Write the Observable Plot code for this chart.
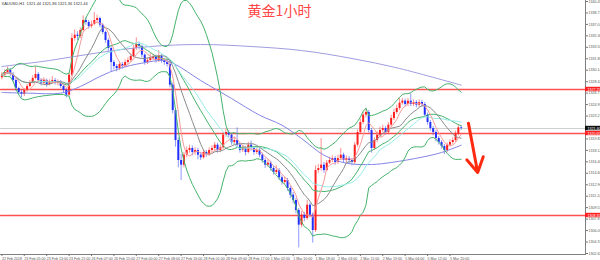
<!DOCTYPE html>
<html><head><meta charset="utf-8">
<script src="https://cdn.jsdelivr.net/npm/d3@7"></script>
<script src="https://cdn.jsdelivr.net/npm/@observablehq/plot@0.6"></script>
<style>html,body{margin:0;padding:0;background:#fff;}svg{display:block;}</style>
</head><body><div id="chart"></div>
<script>
// ---- data (XAUUSD H1) ----
const title = "黄金1小时";
const header = "XAUUSD,H1  1321.44 1321.86 1321.36 1321.44";
const firstOpen = 1329.0;
const closes = [
1329.4,1329.8,1330.1,1329.5,1328.6,1327.4,1326.8,1326.5,1327.1,1327.7,
1328.3,1328.9,1329.5,1328.6,1328.2,1328.6,1328.0,1328.3,1328.6,1328.2,
1328.3,1327.7,1327.1,1326.4,1329.4,1334.9,1335.4,1335.2,1336.1,1337.6,
1337.3,1336.7,1337.0,1337.6,1337.9,1336.9,1335.8,1334.6,1333.4,1331.3,
1330.7,1330.4,1331.0,1330.7,1331.3,1331.6,1332.2,1333.4,1334.0,1333.7,
1332.4,1331.3,1331.6,1331.9,1332.1,1331.6,1332.2,1331.6,1331.3,1331.0,
1327.9,1324.1,1319.6,1316.6,1315.9,1317.4,1318.1,1318.4,1317.8,1318.1,
1317.4,1317.0,1317.8,1317.5,1318.1,1318.4,1318.9,1318.1,1318.5,1320.4,
1320.8,1320.4,1319.3,1319.6,1318.9,1318.1,1318.4,1317.8,1318.9,1318.4,
1317.8,1318.1,1317.4,1316.6,1315.9,1316.2,1315.4,1314.8,1315.1,1314.0,
1313.3,1313.6,1312.4,1311.4,1310.6,1309.1,1306.9,1308.4,1307.9,1309.9,
1308.4,1306.1,1315.1,1315.4,1315.9,1315.1,1316.2,1316.6,1316.9,1316.3,
1316.9,1317.4,1316.6,1316.9,1316.6,1316.3,1318.9,1320.8,1322.3,1323.4,
1323.8,1321.1,1318.4,1319.6,1320.4,1321.1,1321.4,1320.8,1321.9,1322.9,
1323.8,1324.4,1325.2,1325.5,1325.0,1325.5,1325.0,1325.3,1324.9,1325.3,
1325.0,1323.4,1322.3,1321.4,1320.8,1319.9,1319.3,1318.7,1318.1,1318.9,
1319.3,1319.6,1320.6,1321.5,1321.4];
const highs = [
1329.8,1330.2,1330.6,1330.4,1329.8,1328.9,1327.6,1327.1,1327.4,1328.0,
1328.6,1329.3,1330.6,1329.8,1328.9,1329.0,1328.8,1328.7,1329.2,1328.9,
1328.7,1328.6,1328.0,1327.4,1329.7,1335.6,1336.2,1335.9,1336.5,1338.3,
1338.0,1337.6,1337.5,1338.8,1338.4,1338.1,1337.1,1336.0,1334.9,1333.7,
1331.6,1331.0,1331.4,1331.3,1331.7,1332.0,1332.6,1333.9,1335.0,1334.4,
1333.9,1332.6,1332.0,1332.6,1332.5,1332.4,1333.1,1332.5,1331.9,1331.7,
1331.3,1328.2,1324.4,1320.0,1317.5,1317.8,1318.6,1318.9,1318.8,1318.5,
1318.4,1317.8,1318.2,1318.1,1318.5,1318.8,1319.3,1319.2,1318.9,1320.8,
1321.3,1321.1,1320.6,1320.1,1321.5,1319.2,1318.9,1318.7,1319.3,1319.5,
1318.7,1318.6,1318.4,1317.7,1316.9,1316.7,1316.5,1315.7,1315.8,1315.4,
1314.3,1314.1,1313.9,1312.7,1311.8,1310.9,1309.4,1308.9,1308.8,1310.6,
1310.2,1308.7,1315.8,1316.0,1319.9,1316.3,1316.6,1317.1,1317.3,1317.2,
1317.4,1318.4,1317.7,1317.3,1317.2,1316.9,1319.3,1321.2,1322.8,1323.9,
1324.4,1324.1,1321.4,1320.0,1320.9,1321.6,1321.9,1321.7,1322.3,1323.4,
1324.3,1324.9,1325.9,1325.9,1325.8,1325.9,1326.6,1325.7,1325.6,1325.7,
1325.6,1325.3,1323.7,1322.6,1321.7,1321.1,1320.2,1319.6,1319.0,1319.2,
1319.7,1320.0,1321.0,1321.9,1321.8];
const lows = [
1328.7,1329.1,1329.5,1329.2,1328.3,1327.0,1326.4,1326.0,1326.2,1326.9,
1327.5,1328.1,1328.7,1328.3,1327.8,1327.9,1327.6,1327.8,1328.1,1327.9,
1327.8,1327.4,1326.7,1326.0,1326.2,1329.2,1334.5,1334.6,1334.9,1335.9,
1336.9,1336.3,1336.4,1336.8,1337.3,1336.5,1335.5,1334.2,1332.9,1329.9,
1330.2,1329.9,1330.1,1330.3,1330.5,1331.0,1331.3,1332.0,1333.1,1333.2,
1332.0,1330.9,1331.0,1331.3,1331.6,1331.2,1331.3,1331.2,1330.9,1330.6,
1327.5,1323.6,1318.6,1315.5,1313.6,1315.5,1317.0,1317.7,1317.3,1317.4,
1316.7,1316.6,1316.8,1317.1,1317.2,1317.8,1318.1,1317.7,1317.8,1318.3,
1320.1,1320.0,1318.9,1319.0,1318.5,1317.7,1317.8,1317.3,1317.6,1318.0,
1317.4,1317.5,1317.0,1316.2,1315.4,1315.6,1315.0,1314.4,1314.5,1313.6,
1312.9,1313.0,1312.0,1310.9,1310.1,1308.6,1303.5,1306.5,1307.4,1307.6,
1308.0,1304.2,1305.8,1314.7,1315.0,1314.7,1314.9,1316.0,1316.3,1315.9,
1316.0,1316.6,1316.2,1316.3,1316.1,1315.8,1316.0,1318.6,1320.5,1322.0,
1323.0,1320.7,1317.7,1318.1,1319.3,1320.1,1320.8,1320.4,1320.5,1321.6,
1322.6,1323.5,1324.1,1324.9,1324.6,1324.7,1324.7,1324.7,1324.5,1324.6,
1324.6,1323.0,1321.9,1321.0,1320.3,1319.4,1318.9,1318.3,1317.5,1317.8,
1318.6,1319.0,1319.3,1320.3,1321.1];
// slow moving averages read at sample bars
const slowMaBars = [0,17,35,53,71,89,107,125,142,164];
const slowMaVals = [1330.7,1331.6,1332.8,1333.7,1334.0,1333.7,1333.1,1331.9,1330.4,1327.9];
const midMaBars = [0,10,21,28,35,42,50,58,62,71,82,92,100,107,115,123,132,139,150,157,164];
const midMaVals = [1326.8,1326.7,1326.7,1327.7,1329.2,1330.4,1331.2,1331.6,1331.0,1328.6,1325.9,1323.4,1321.9,1319.9,1317.4,1316.2,1316.0,1316.3,1317.1,1317.8,1318.9];
// horizontal support/resistance levels
const redLevels = [1327.25, 1320.65, 1308.35];
// time axis labels (one every 8 bars)
const timeLabels = ["22 Feb 2018","23 Feb 05:00","23 Feb 13:00","23 Feb 21:00","26 Feb 07:00","26 Feb 15:00","27 Feb 00:00","27 Feb 08:00","27 Feb 16:00","28 Feb 01:00","28 Feb 09:00","28 Feb 17:00","1 Mar 02:00","1 Mar 10:00","1 Mar 18:00","2 Mar 03:00","2 Mar 11:00","2 Mar 19:00","5 Mar 04:00","5 Mar 12:00","5 Mar 20:00"];
const priceTicks = [1340.45,1338.73,1337.01,1335.30,1333.58,1331.86,1330.14,1328.42,1326.71,1324.99,1323.27,1321.55,1319.83,1318.12,1316.40,1314.68,1312.96,1311.24,1309.53,1307.81,1306.09,1304.37,1302.65];
// arrow annotation (bar index, price)
const arrowFrom = [166.6, 1322.2];
const arrowTo = [169.9, 1314.8];

// ---- build ----
const xDomain = [-0.5, 208.4];
const yDomain = [1302.5, 1340.6];
const bars = closes.map((c, i) => ({i, o: i === 0 ? firstOpen : closes[i - 1], c, h: highs[i], l: lows[i]}));
const up = "#ff1f1f", down = "#2230ff";
function win(k, f) {
  return closes.map((_, i) => f(closes.slice(Math.max(0, i - k + 1), i + 1)));
}
const ma5 = win(5, d3.mean), ma12 = win(12, d3.mean), ma24 = win(24, d3.mean);
const bbMid = win(20, d3.mean);
const bbDev = win(20, s => s.length > 1 ? Math.sqrt(d3.variance(s) * (s.length - 1) / s.length) : 0);
const ind = closes.map((_, i) => ({i, ma5: ma5[i], ma12: ma12[i], ma24: ma24[i], mid: bbMid[i], hi: bbMid[i] + 2 * bbDev[i], lo: bbMid[i] - 2 * bbDev[i]}));
const slow = slowMaBars.map((b, j) => ({b, v: slowMaVals[j]}));
const midMa = midMaBars.map((b, j) => ({b, v: midMaVals[j]}));
const last = closes[closes.length - 1];
const boxW = (xDomain[1] - xDomain[0]) * 15 / 585;
const tickIdx = timeLabels.map((_, k) => k * 8);
const levelSegs = redLevels.flatMap((v, k) => [{k, x: xDomain[0], v}, {k, x: xDomain[1], v}]);
const lastSeg = [{x: xDomain[0], v: last}, {x: xDomain[1], v: last}];
const font = "Liberation Sans, Arial, sans-serif";

const chart = Plot.plot({
  width: 600, height: 260,
  marginLeft: 0, marginRight: 15, marginTop: 0, marginBottom: 6,
  x: {domain: xDomain, axis: null},
  y: {domain: yDomain, axis: null},
  style: {fontFamily: font, background: "#fff"},
  marks: [
    Plot.line(lastSeg, {x: "x", y: "v", stroke: "#cfcfcf", strokeWidth: 1}),
    Plot.line(levelSegs, {x: "x", y: "v", z: "k", stroke: "#ff5050", strokeWidth: 1.3}),
    // candles
    Plot.ruleX(bars, {filter: d => d.c >= d.o, x: "i", y1: "l", y2: "h", stroke: up, strokeOpacity: 0.5}),
    Plot.ruleX(bars, {filter: d => d.c < d.o, x: "i", y1: "l", y2: "h", stroke: down, strokeOpacity: 0.5}),
    Plot.ruleX(bars, {filter: d => d.c >= d.o, x: "i", y1: "o", y2: d => Math.max(d.c, d.o + 0.1), stroke: up, strokeWidth: 2}),
    Plot.ruleX(bars, {filter: d => d.c < d.o, x: "i", y1: "o", y2: "c", stroke: down, strokeWidth: 2}),
    // indicators
    Plot.line(slow, {x: "b", y: "v", stroke: "#a09ce0", strokeWidth: 1, curve: "catmull-rom"}),
    Plot.line(midMa, {x: "b", y: "v", stroke: "#8585e6", strokeWidth: 1, curve: "catmull-rom"}),
    Plot.line(ind, {x: "i", y: "hi", stroke: "#45b36b", strokeWidth: 1}),
    Plot.line(ind, {x: "i", y: "lo", stroke: "#45b36b", strokeWidth: 1}),
    Plot.line(ind, {x: "i", y: "mid", stroke: "#45b36b", strokeWidth: 1}),
    Plot.line(ind, {x: "i", y: "ma24", stroke: "#95ece8", strokeWidth: 1}),
    Plot.line(ind, {x: "i", y: "ma12", stroke: "#8a8a8a", strokeWidth: 1}),
    Plot.line(ind, {x: "i", y: "ma5", stroke: "#f59a9a", strokeWidth: 1}),
    // arrow
    Plot.arrow([{a: arrowFrom, b: arrowTo}], {x1: d => d.a[0], y1: d => d.a[1], x2: d => d.b[0], y2: d => d.b[1], stroke: "#ff2a10", strokeWidth: 3, headLength: 10, bend: 0}),
    // frame lines
    Plot.line([{x: xDomain[1], v: yDomain[0]}, {x: xDomain[1], v: yDomain[1]}], {x: "x", y: "v", stroke: "#808080", strokeWidth: 1}),
    Plot.line([{x: xDomain[0], v: yDomain[0]}, {x: xDomain[1], v: yDomain[0]}], {x: "x", y: "v", stroke: "#808080", strokeWidth: 1}),
    // axes
    Plot.axisY(priceTicks, {anchor: "right", tickSize: 2, tickPadding: 1, fontSize: 3.6, tickFormat: d => d.toFixed(2), stroke: "#777", fill: "#555"}),
    Plot.axisX(tickIdx, {anchor: "bottom", tickSize: 2, tickPadding: 0.5, fontSize: 3.6, textAnchor: "start", tickFormat: (d, k) => timeLabels[k], stroke: "#777", fill: "#555"}),
    // level boxes on the axis
    Plot.rect(redLevels, {x1: xDomain[1], x2: xDomain[1] + boxW, y1: d => d - 0.33, y2: d => d + 0.33, fill: "#ff2020"}),
    Plot.text(redLevels, {x: xDomain[1], y: d => d, text: d => d.toFixed(2), fill: "#ffffff", fontSize: 3.6, textAnchor: "start", dx: 2}),
    Plot.rect([last], {x1: xDomain[1], x2: xDomain[1] + boxW, y1: d => d - 0.33, y2: d => d + 0.33, fill: "#111111"}),
    Plot.text([last], {x: xDomain[1], y: d => d, text: d => d.toFixed(2), fill: "#ffffff", fontSize: 3.6, textAnchor: "start", dx: 2}),
    // texts
    Plot.text([header], {frameAnchor: "top-left", dx: 1, dy: 3, text: d => d, fontSize: 4, fill: "#333", textAnchor: "start", lineAnchor: "middle"}),
    Plot.text([title], {frameAnchor: "top-left", dx: 279, dy: 11, text: d => d, fontSize: 14, fill: "#ff4545", textAnchor: "middle", lineAnchor: "middle", fontFamily: "Noto Sans CJK SC"})
  ]
});
document.getElementById("chart").append(chart);
</script>
</body></html>
